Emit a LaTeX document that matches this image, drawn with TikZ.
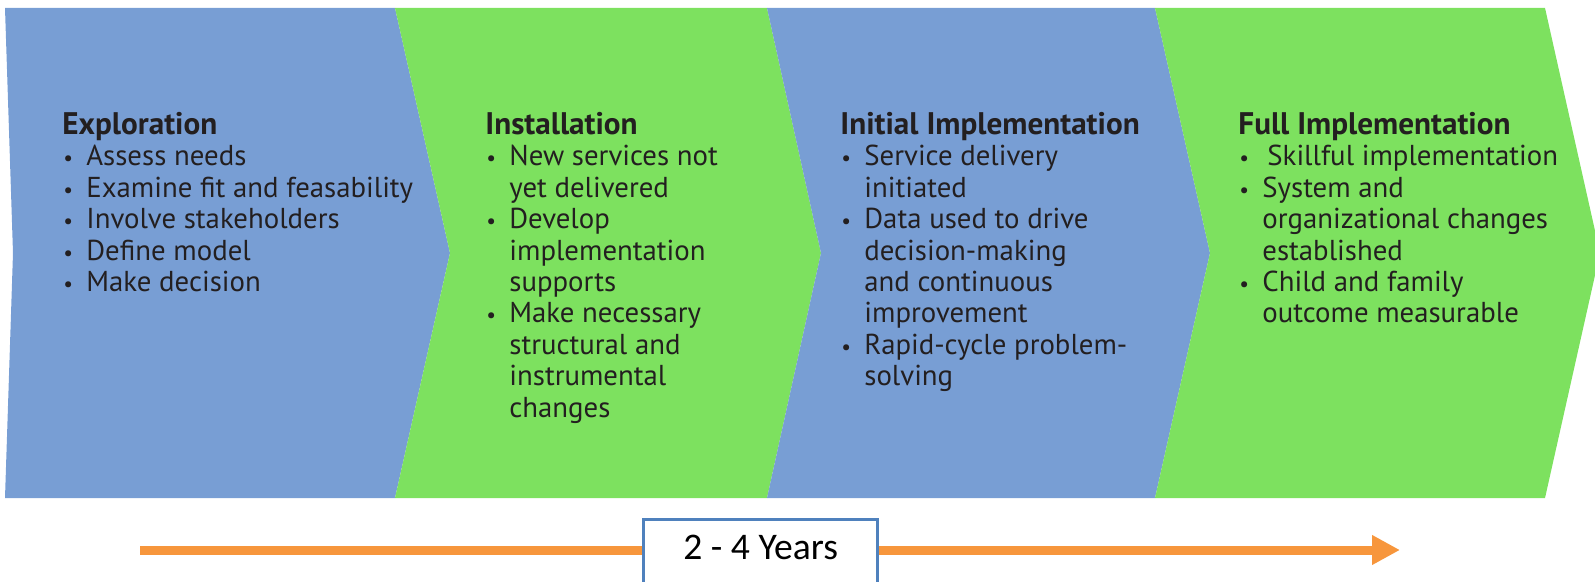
\documentclass[tikz,border=0pt]{standalone}
\usepackage{fontspec}
\setmainfont{PT Sans}
\newfontfamily\yearfont{Carlito}
\usetikzlibrary{arrows.meta}

\definecolor{phaseblue}{RGB}{120,158,212}
\definecolor{phasegreen}{RGB}{125,225,95}
\definecolor{timeorange}{RGB}{247,150,60}
\definecolor{boxblue}{RGB}{79,129,189}
\definecolor{textdark}{RGB}{35,31,32}

\newcommand{\bul}{\makebox[12pt][l]{\hspace{0.5pt}\scalebox{0.75}{\textbullet}}}
\newcommand{\cnt}{\hspace*{12pt}}
\newcommand{\phasetitle}[1]{{\fontsize{15.6}{15.8}\selectfont\textbf{#1}}}

\begin{document}
\begin{tikzpicture}[x=0.5pt,y=-0.5pt,
	phase/.style={anchor=north west,inner sep=0pt,align=left,text=textdark,font=\fontsize{14.4}{15.7}\selectfont}]

	\useasboundingbox (0,0) rectangle (1595,582);
	\clip (0,0) rectangle (1595,582);

	% chevrons
	\fill[phaseblue] (5,8) -- (395,8) -- (450,253) -- (395,498) -- (5,498) -- (13,253) -- cycle;
	\fill[phasegreen] (395,8) -- (767,8) -- (821,253) -- (767,498) -- (395,498) -- (450,253) -- cycle;
	\fill[phaseblue] (767,8) -- (1155,8) -- (1210,253) -- (1155,498) -- (767,498) -- (821,253) -- cycle;
	\fill[phasegreen] (1155,8) -- (1545,8) -- (1600,253) -- (1545,498) -- (1155,498) -- (1210,253) -- cycle;

	\node[phase] (expl) at (62,112) {\phasetitle{Exploration}\\
		\bul Assess needs\\
		\bul Examine fit and feasability\\
		\bul Involve stakeholders\\
		\bul Define model\\
		\bul Make decision};

	\node[phase] (inst) at (485,112) {\phasetitle{Installation}\\
		\bul New services not\\
		\cnt yet delivered\\
		\bul Develop\\
		\cnt implementation\\
		\cnt supports\\
		\bul Make necessary\\
		\cnt structural and\\
		\cnt instrumental\\
		\cnt changes};

	\node[phase] (init) at (840,112) {\phasetitle{Initial Implementation}\\
		\bul Service delivery\\
		\cnt initiated\\
		\bul Data used to drive\\
		\cnt decision-making\\
		\cnt and continuous\\
		\cnt improvement\\
		\bul Rapid-cycle problem-\\
		\cnt solving};

	\node[phase] (full) at (1238,112) {\phasetitle{Full Implementation}\\
		\bul\hspace{2.5pt}Skillful implementation\\
		\bul System and\\
		\cnt organizational changes\\
		\cnt established\\
		\bul Child and family\\
		\cnt outcome measurable};

	% time line
	\coordinate (tstart) at (140,550);
	\coordinate (tend) at (1400,550);
	\draw[timeorange,line width=4.5pt,-{Triangle[length=14pt,width=14pt]}] (tstart) -- (tend);

	\node[draw=boxblue,line width=1.7pt,fill=white,anchor=north west,minimum width=117pt,minimum height=36pt,
		text height=9pt,text depth=5pt,font=\yearfont\fontsize{18.8}{20}\selectfont] (years) at (642,518) {2 - 4 Years};
\end{tikzpicture}
\end{document}
